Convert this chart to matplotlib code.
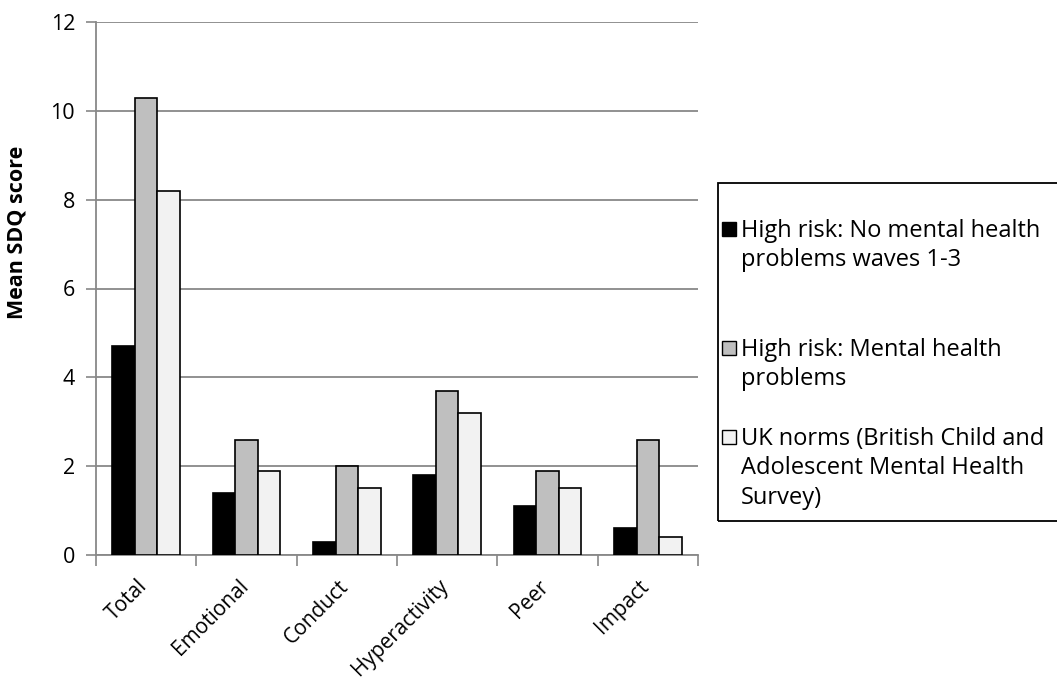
import numpy as np
import matplotlib.pyplot as plt
from matplotlib.patches import Rectangle
from matplotlib.transforms import ScaledTranslation

categories = ["Total", "Emotional", "Conduct", "Hyperactivity", "Peer", "Impact"]
no_problems = [4.7, 1.4, 0.3, 1.8, 1.1, 0.6]
mh_problems = [10.3, 2.6, 2.0, 3.7, 1.9, 2.6]
uk_norms = [8.2, 1.9, 1.5, 3.2, 1.5, 0.4]
series_labels = ["High risk: No mental health\nproblems waves 1-3",
                 "High risk: Mental health\nproblems",
                 "UK norms (British Child and\nAdolescent Mental Health\nSurvey)"]
colors = ["#000000", "#bfbfbf", "#f2f2f2"]

plt.rcParams['font.family'] = ['Open Sans', 'DejaVu Sans']

fig = plt.figure(figsize=(10.57, 6.91), dpi=100)
ax = fig.add_axes([96 / 1057, 136 / 691, 602 / 1057, 533 / 691])

x = np.arange(len(categories))
w = 0.225
for i, vals in enumerate([no_problems, mh_problems, uk_norms]):
    ax.bar(x + (i - 1) * w, vals, w, color=colors[i], edgecolor="black", linewidth=1.2, zorder=3)

ax.set_xlim(-0.5, len(categories) - 0.5)
ax.set_ylim(0, 12)
ax.set_yticks(range(0, 13, 2))
ax.tick_params(axis='y', labelsize=15.5, length=7, color="#888888", width=1.2, pad=8)
ax.yaxis.grid(True, color="#888888", linewidth=1.3, zorder=0)

ax.set_xticks(x)
ax.set_xticklabels(categories, rotation=45, ha='right', rotation_mode='anchor', fontsize=15)
ax.tick_params(axis='x', which='major', length=0, pad=15)
ax.set_xticks(np.arange(-0.5, len(categories)), minor=True)
ax.tick_params(axis='x', which='minor', length=8, color="#888888", width=1.2)
shift = ScaledTranslation(-9 / 100, 0, fig.dpi_scale_trans)
for lbl in ax.get_xticklabels():
    lbl.set_transform(lbl.get_transform() + shift)

for s in ['top', 'right']:
    ax.spines[s].set_visible(False)
for s in ['left', 'bottom']:
    ax.spines[s].set_color("#888888")
    ax.spines[s].set_linewidth(1.3)

ax.set_ylabel("Mean SDQ score", fontsize=15.5, fontweight='bold')
ax.yaxis.set_label_coords(-0.113, 0.606)

# legend drawn by hand so the swatch sits on the first line of each entry
W, H = 1057, 691
fig.patches.append(Rectangle((718 / W, 1 - 521 / H), 345 / W, 338 / H,
                             transform=fig.transFigure, fill=False,
                             edgecolor="black", linewidth=1.3))
tops = [229, 348, 437]
for i, lab in enumerate(series_labels):
    y = 1 - tops[i] / H
    fig.patches.append(Rectangle((722 / W, y - 7 / H), 14 / W, 14 / H,
                                 transform=fig.transFigure, facecolor=colors[i],
                                 edgecolor="black", linewidth=1))
    fig.text(741 / W, y + 10 / H, lab, fontsize=17, va='top', ha='left', linespacing=1.3)

fig.savefig("out.png", dpi=100)
